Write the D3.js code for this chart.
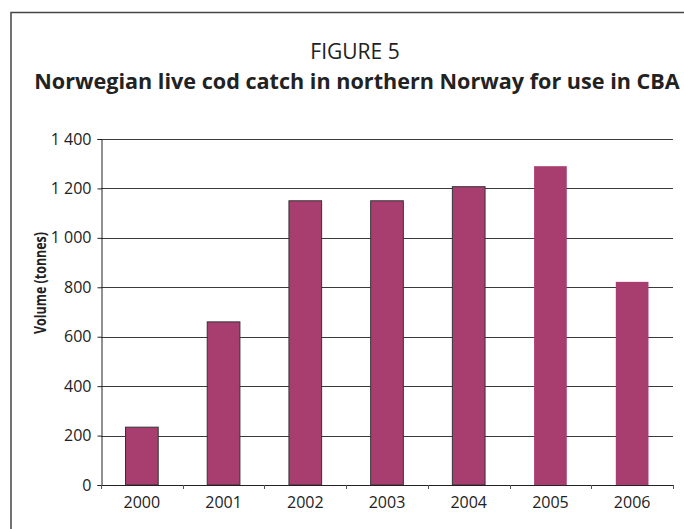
<!DOCTYPE html>
<html>
<head>
<meta charset="utf-8">
<script src="https://cdn.jsdelivr.net/npm/d3@7"></script>
<style>
body { margin: 0; background: #fff; }
svg { display: block; font-family: "Open Sans", "Noto Sans", sans-serif; }
</style>
</head>
<body>
<div id="chart"></div>
<script>
// data
var years = ['2000', '2001', '2002', '2003', '2004', '2005', '2006'];
var volumes = [234, 660, 1150, 1150, 1207, 1290, 822];
var yTicks = [0, 200, 400, 600, 800, 1000, 1200, 1400];

var width = 684, height = 529;
var plot = {left: 101, right: 673, top: 139, bottom: 485};
var fontStack = '"Open Sans", "Noto Sans", sans-serif';

var svg = d3.select('#chart').append('svg')
	.attr('width', width)
	.attr('height', height);

// frame
svg.append('rect')
	.attr('x', 11).attr('y', 12.5)
	.attr('width', 720).attr('height', 560)
	.style('fill', 'none').style('stroke', '#444').style('stroke-width', 1.5);

// titles
svg.append('text')
	.attr('x', 355).attr('y', 59)
	.attr('text-anchor', 'middle')
	.style('font-size', '21px').style('fill', '#222')
	.text('FIGURE 5');
svg.append('text')
	.attr('x', 357).attr('y', 89)
	.attr('text-anchor', 'middle')
	.style('font-size', '21.6px').style('font-weight', 'bold').style('fill', '#222')
	.text('Norwegian live cod catch in northern Norway for use in CBA');

var x = d3.scaleBand()
	.domain(years)
	.range([plot.left, plot.right])
	.paddingInner(0.6)
	.paddingOuter(0.3);

var y = d3.scaleLinear()
	.domain([0, 1400])
	.range([plot.bottom, plot.top]);

var fmt = function(d){ return d3.format(',')(d).replace(',', ' '); };

// gridlines
svg.append('g').selectAll('line')
	.data(yTicks.filter(function(d){ return d > 0; }))
	.enter().append('line')
	.attr('x1', plot.left).attr('x2', plot.right)
	.attr('y1', function(d){ return Math.round(y(d)) + 0.5; })
	.attr('y2', function(d){ return Math.round(y(d)) + 0.5; })
	.style('stroke', '#3a3a3a').style('stroke-width', 1);

// bars
svg.append('g').selectAll('rect')
	.data(volumes)
	.enter().append('rect')
	.attr('x', function(d, i){ return x(years[i]); })
	.attr('y', function(d){ return y(d); })
	.attr('width', x.bandwidth())
	.attr('height', function(d){ return plot.bottom - y(d); })
	.style('fill', '#a83d6f')
	.style('stroke', function(d, i){ return i < 5 ? '#333' : 'none'; })
	.style('stroke-width', 1);

// y axis
var yAxis = svg.append('g')
	.attr('transform', 'translate(' + (plot.left + 0.5) + ',0)')
	.call(d3.axisLeft(y).tickValues(yTicks).tickFormat(fmt).tickSize(4).tickPadding(6));
yAxis.select('.domain').style('stroke', '#222');
yAxis.selectAll('line').style('stroke', '#222');
yAxis.selectAll('text').style('font-size', '16px').style('fill', '#222')
	.style('font-family', fontStack);

// x axis, ticks sit on category boundaries
var xAxis = svg.append('g')
	.attr('transform', 'translate(0,' + plot.bottom + ')')
	.call(d3.axisBottom(x).tickSize(0).tickPadding(11.5));
xAxis.select('.domain').remove();
xAxis.selectAll('text').style('font-size', '16px').style('fill', '#222')
	.style('font-family', fontStack);
svg.append('line')
	.attr('x1', plot.left).attr('x2', plot.right)
	.attr('y1', plot.bottom + 0.5).attr('y2', plot.bottom + 0.5)
	.style('stroke', '#222');
svg.append('g').selectAll('line')
	.data(d3.range(years.length + 1))
	.enter().append('line')
	.attr('x1', function(i){ return Math.round(plot.left + x.step() * i) + 0.5; })
	.attr('x2', function(i){ return Math.round(plot.left + x.step() * i) + 0.5; })
	.attr('y1', plot.bottom).attr('y2', plot.bottom + 4)
	.style('stroke', '#555');

// y title
svg.append('text')
	.attr('transform', 'translate(46,283) rotate(-90)')
	.attr('text-anchor', 'middle')
	.attr('textLength', 102).attr('lengthAdjust', 'spacingAndGlyphs')
	.style('font-size', '16px').style('font-weight', 'bold').style('fill', '#222')
	.text('Volume (tonnes)');
</script>
</body>
</html>
